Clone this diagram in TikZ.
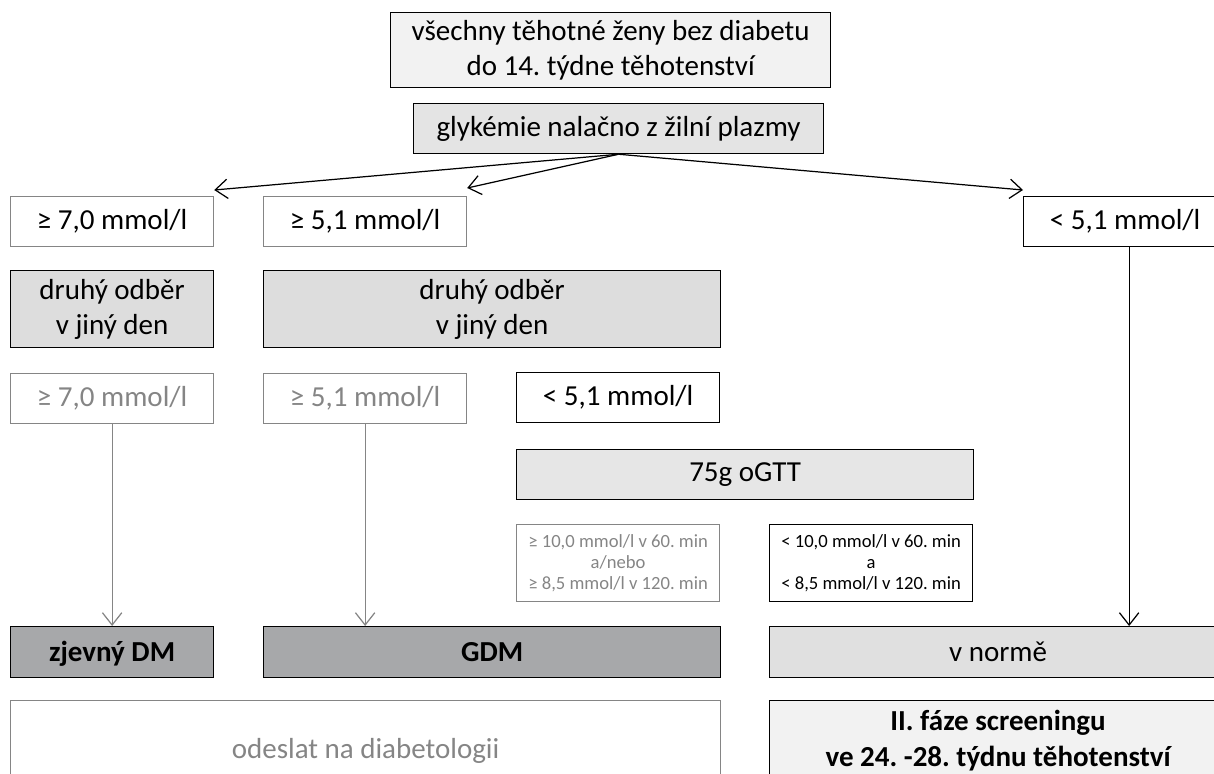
\documentclass[tikz,border=0pt]{standalone}
\usepackage{fontspec}
\setmainfont{Carlito}
\usetikzlibrary{arrows.meta,positioning}
\definecolor{lightfill}{HTML}{F2F2F2}
\definecolor{midfill}{HTML}{DDDDDD}
\definecolor{darkfill}{HTML}{A7A8AA}
\definecolor{greyline}{HTML}{858585}
\frenchspacing
\tikzset{
  box/.style={draw,line width=0.7pt,anchor=north west,align=center,inner sep=0pt,
    font=\fontsize{16.5}{20}\selectfont,minimum height=1cm,minimum width=4.06cm},
  greybox/.style={box,draw=greyline,text=greyline},
  smallbox/.style={box,font=\fontsize{10.6}{12}\selectfont,minimum height=1.54cm},
  boldtext/.style={font=\fontsize{16.5}{20}\selectfont\bfseries},
  arr/.style={-{Straight Barb[length=7pt,width=11pt]},line width=0.7pt},
}
\begin{document}
\begin{tikzpicture}
 \clip (0,0) rectangle (24.28,-15.46);
 \node[box,fill=lightfill,minimum width=8.8cm,minimum height=1.5cm] (all) at (7.8,-0.24) {všechny těhotné ženy bez diabetu\\do 14. týdne těhotenství};
 \node[box,fill=midfill!80,minimum width=8.2cm] (glyk) at (8.26,-2.06) {glykémie nalačno z žilní plazmy};

 % first test
 \node[greybox,text=black] (ge70a) at (0.2,-3.92) {≥ 7,0 mmol/l};
 \node[greybox,text=black] (ge51a) at (5.26,-3.92) {≥ 5,1 mmol/l};
 \node[box] (lt51a) at (20.46,-3.92) {< 5,1 mmol/l};

 \node[box,fill=midfill,minimum height=1.54cm] (odber1) at (0.2,-5.4) {druhý odběr\\v jiný den};
 \node[box,fill=midfill,minimum height=1.54cm,minimum width=9.14cm] (odber2) at (5.26,-5.4) {druhý odběr\\v jiný den};

 % second test
 \node[greybox] (ge70b) at (0.2,-7.46) {≥ 7,0 mmol/l};
 \node[greybox] (ge51b) at (5.26,-7.46) {≥ 5,1 mmol/l};
 \node[box] (lt51b) at (10.32,-7.44) {< 5,1 mmol/l};

 \node[box,fill=midfill!75,minimum width=9.14cm] (ogtt) at (10.32,-8.98) {75g oGTT};
 \node[smallbox,draw=greyline,text=greyline] (ogttpos) at (10.32,-10.48) {≥ 10,0 mmol/l v 60. min\\a/nebo\\≥ 8,5 mmol/l v 120. min};
 \node[smallbox] (ogttneg) at (15.38,-10.48) {< 10,0 mmol/l v 60. min\\a\\< 8,5 mmol/l v 120. min};

 % results
 \node[box,boldtext,fill=darkfill,minimum height=1.02cm,text height=12pt,text depth=1pt] (dm) at (0.2,-12.52) {zjevný DM};
 \node[box,boldtext,fill=darkfill,minimum height=1.02cm,text height=12pt,text depth=1pt,minimum width=9.14cm] (gdm) at (5.26,-12.52) {GDM};
 \node[box,fill=midfill!90,minimum height=1.02cm,minimum width=9.14cm] (norm) at (15.38,-12.52) {v normě};

 \node[greybox,minimum width=14.2cm,minimum height=2cm] (diab) at (0.2,-14.0) {odeslat na diabetologii};
 \node[box,boldtext,fill=lightfill,minimum width=9.14cm,minimum height=1.6cm] (faze) at (15.38,-14.0) {II. fáze screeningu\\ve 24. -28. týdnu těhotenství};

 \draw[arr] (glyk.south) -- ([yshift=0.12cm]ge70a.north east);
 \draw[arr] (glyk.south) -- ([yshift=0.16cm]ge51a.north east);
 \draw[arr] (glyk.south) -- ([yshift=0.12cm]lt51a.north west);
 \draw[arr] ([xshift=0.08cm]lt51a.south) -- ([xshift=0.08cm]lt51a.south |- norm.north);
 \draw[arr,greyline] (ge70b.south) -- (ge70b.south |- dm.north);
 \draw[arr,greyline] (ge51b.south) -- (ge51b.south |- gdm.north);
\end{tikzpicture}
\end{document}
